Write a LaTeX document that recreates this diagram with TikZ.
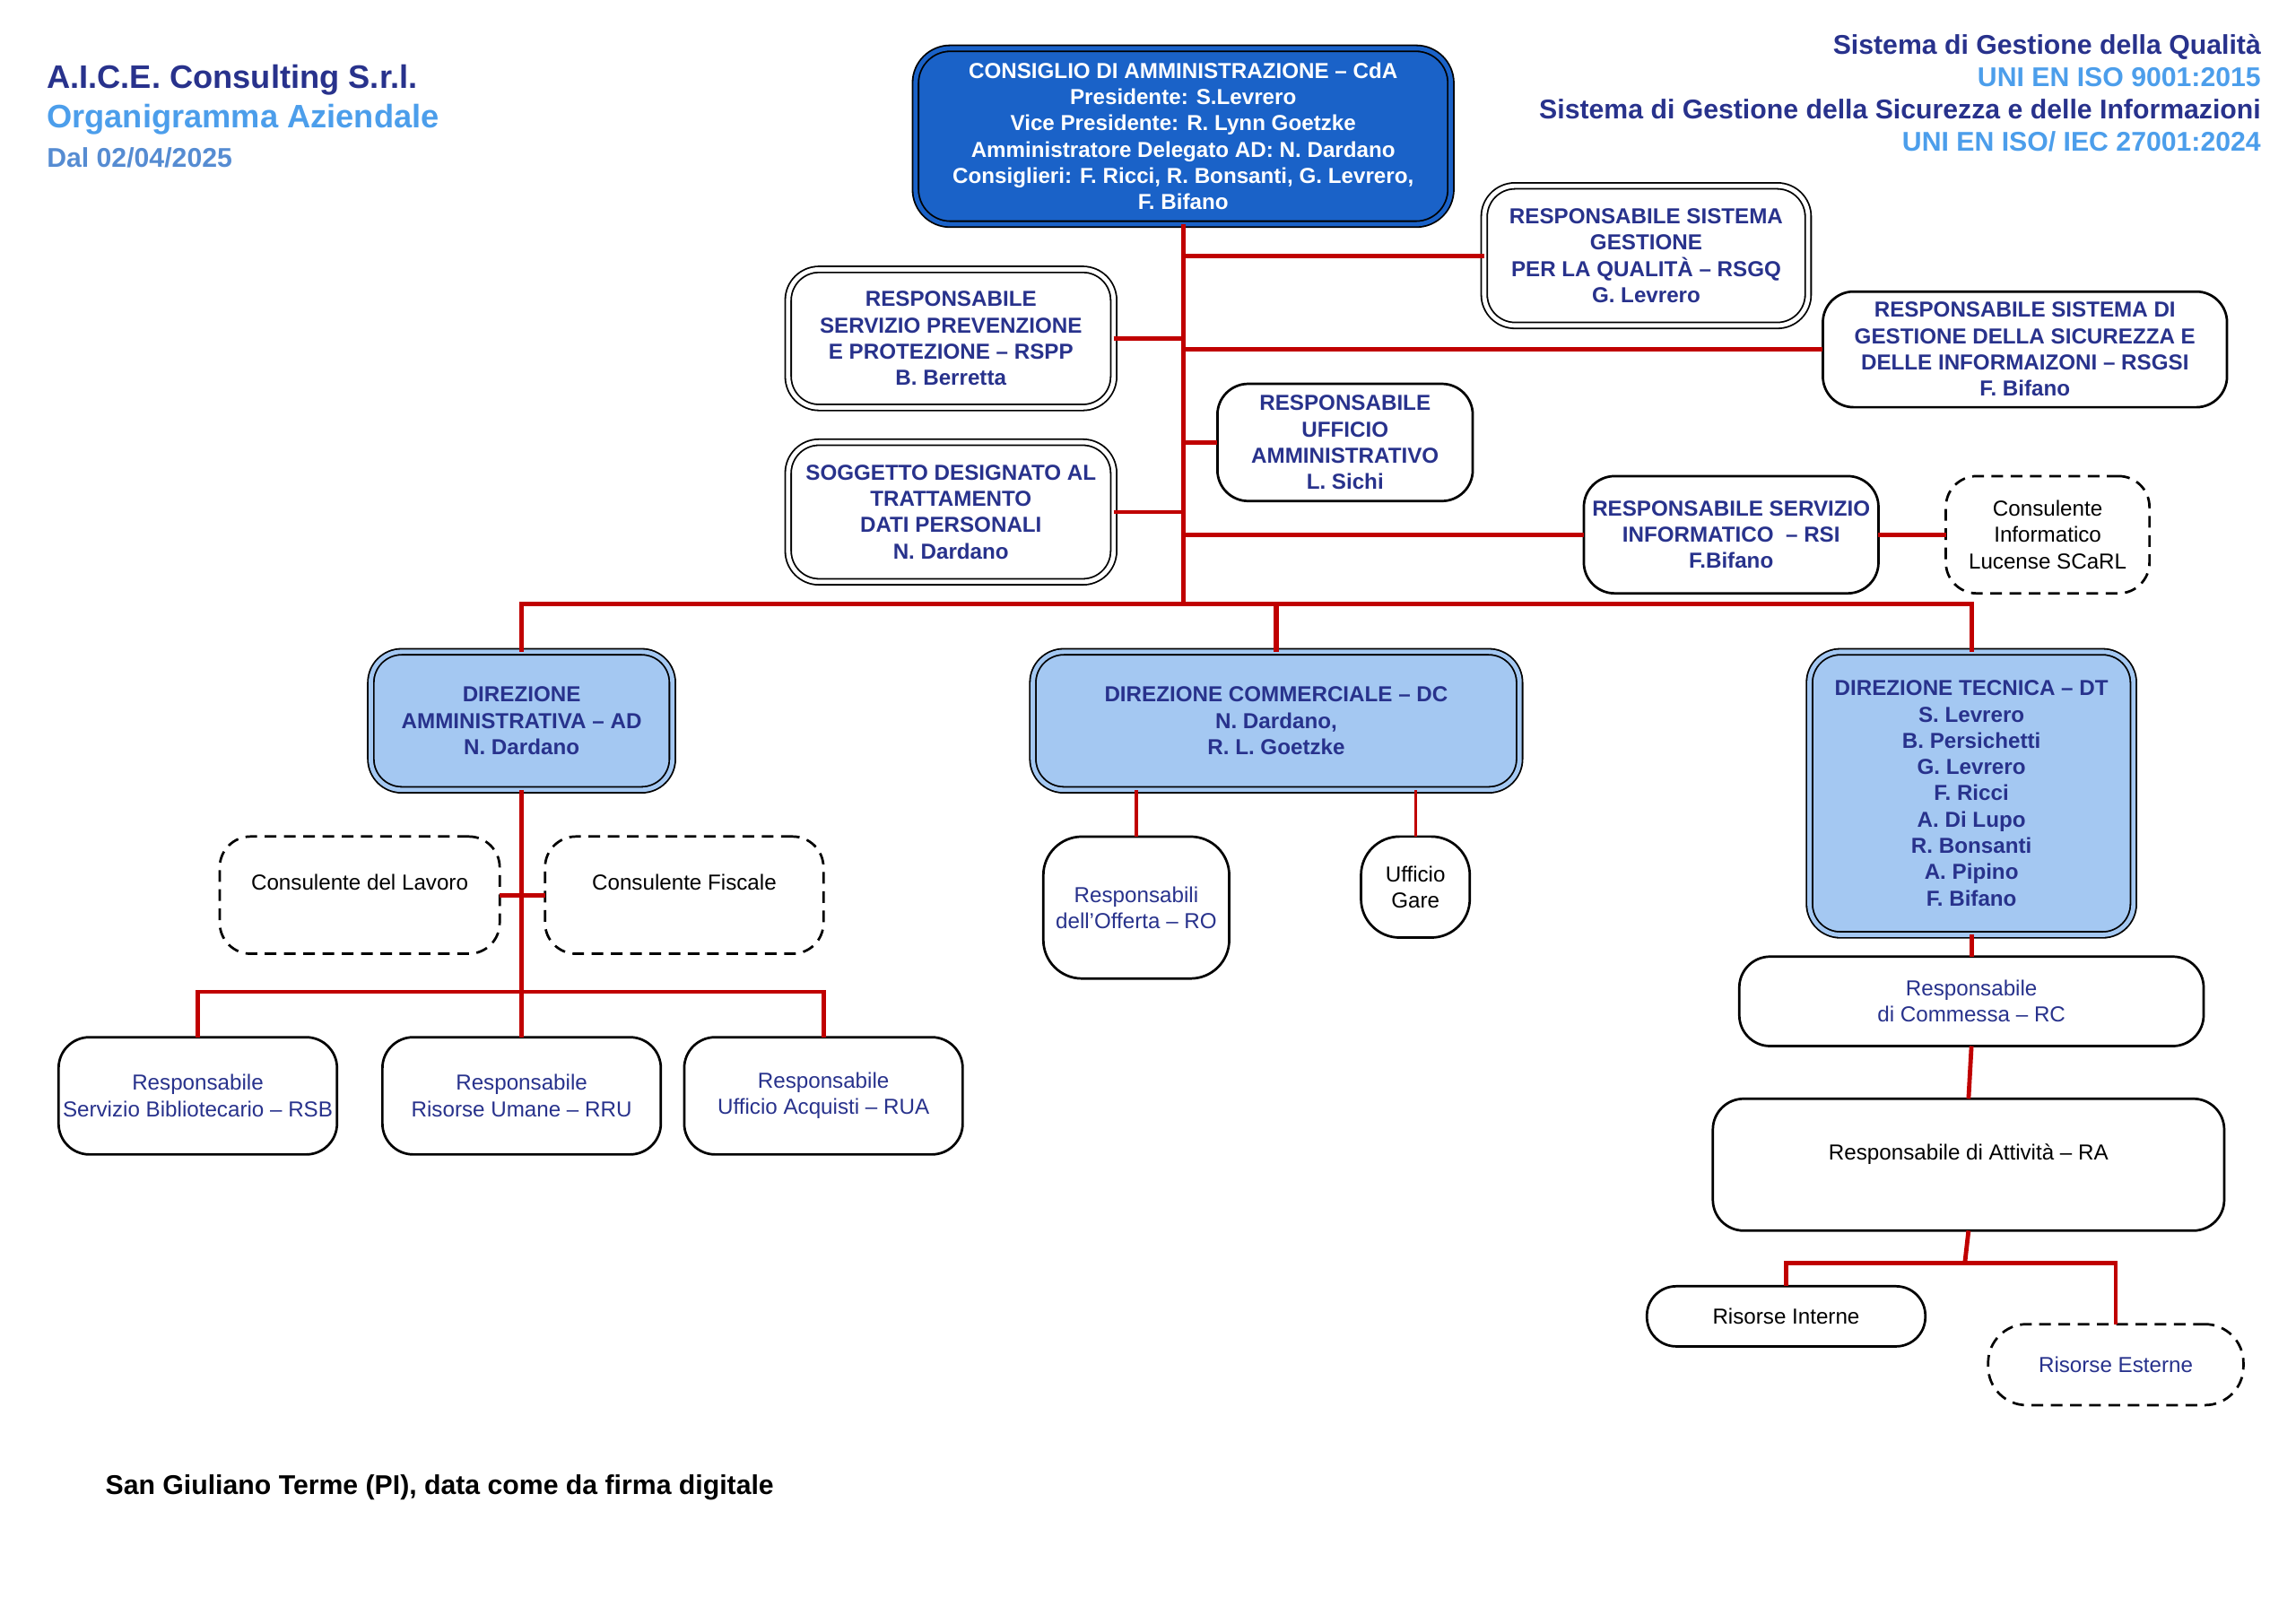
\documentclass[tikz,border=0pt]{standalone}
\usepackage{fontspec}
\setmainfont{Liberation Sans}
\definecolor{navy}{RGB}{40,50,140}
\definecolor{skyblue}{RGB}{76,158,235}
\definecolor{dateblue}{RGB}{86,140,210}
\definecolor{cdablue}{RGB}{26,98,200}
\definecolor{dirblue}{RGB}{164,200,242}
\definecolor{linkred}{RGB}{192,0,0}
\begin{document}
\begin{tikzpicture}[x=0.019cm,y=-0.019cm,inner sep=0pt,outer sep=0pt,
boxfont/.style={font=\fontsize{8}{9.7}\selectfont},
boldfont/.style={font=\bfseries\fontsize{8}{9.7}\selectfont},
cdabox/.style={draw,rectangle,rounded corners=0.45cm,fill=cdablue,double=cdablue,double distance=1.6pt,line width=0.6pt,text=white,boldfont,align=center},
dirbox/.style={draw,rectangle,rounded corners=0.4cm,fill=dirblue,double=dirblue,double distance=1.6pt,line width=0.6pt,text=navy,boldfont,align=center},
staffbox/.style={draw,rectangle,rounded corners=0.4cm,fill=white,double=white,double distance=1.6pt,line width=0.6pt,text=navy,boldfont,align=center},
unitbox/.style={draw,rectangle,rounded corners=0.4cm,fill=white,line width=0.9pt,text=navy,boxfont,align=center},
extbox/.style={unitbox,dash pattern=on 4.3pt off 2.8pt,text=black},
conn/.style={draw=linkred,line width=1.6pt},
thinconn/.style={draw=linkred,line width=1.1pt}]
\useasboundingbox (0,0) rectangle (1567,1108);
% header
\node[anchor=base west,text=navy,font=\bfseries\fontsize{12}{14}\selectfont] (company) at (32,60) {A.I.C.E. Consulting S.r.l.};
\node[anchor=base west,text=skyblue,font=\bfseries\fontsize{12}{14}\selectfont] (doctitle) at (32,87) {Organigramma Aziendale};
\node[anchor=base west,text=dateblue,font=\bfseries\fontsize{10}{12}\selectfont] (docdate) at (32,114) {Dal 02/04/2025};
\node[anchor=east,align=right,font=\bfseries\fontsize{10}{12}\selectfont] (norms) at (1543,63.5)
  {\textcolor{navy}{Sistema di Gestione della Qualità}\\
   \textcolor{skyblue}{UNI EN ISO 9001:2015}\\
   \textcolor{navy}{Sistema di Gestione della Sicurezza e delle Informazioni}\\
   \textcolor{skyblue}{UNI EN ISO/ IEC 27001:2024}};
\node[anchor=base west,font=\bfseries\fontsize{10}{12}\selectfont] (place) at (72,1020) {San Giuliano Terme (PI), data come da firma digitale};
% board and staff
\draw (807.5,93) node[cdabox,minimum width=6.94cm,minimum height=2.28cm] (cda)
  {CONSIGLIO DI AMMINISTRAZIONE – CdA\\Presidente: S.Levrero\\Vice Presidente: R. Lynn Goetzke\\Amministratore Delegato AD: N. Dardano\\Consiglieri: F. Ricci, R. Bonsanti, G. Levrero,\\F. Bifano};
\draw (1123.5,174.5) node[staffbox,minimum width=4.2cm,minimum height=1.81cm] (rsgq)
  {RESPONSABILE SISTEMA\\GESTIONE\\PER LA QUALITÀ – RSGQ\\G. Levrero};
\draw (649,231) node[staffbox,minimum width=4.22cm,minimum height=1.79cm] (rspp)
  {RESPONSABILE\\SERVIZIO PREVENZIONE\\E PROTEZIONE – RSPP\\B. Berretta};
\draw (1382,238.5) node[unitbox,boldfont,minimum width=5.24cm,minimum height=1.5cm] (rsgsi)
  {RESPONSABILE SISTEMA DI\\GESTIONE DELLA SICUREZZA E\\DELLE INFORMAIZONI – RSGSI\\F. Bifano};
\draw (918,302) node[unitbox,boldfont,minimum width=3.31cm,minimum height=1.52cm] (ruamm)
  {RESPONSABILE\\UFFICIO\\AMMINISTRATIVO\\L. Sichi};
\draw (649,349.5) node[staffbox,minimum width=4.22cm,minimum height=1.81cm] (privacy)
  {SOGGETTO DESIGNATO AL\\TRATTAMENTO\\DATI PERSONALI\\N. Dardano};
\draw (1181.5,365) node[unitbox,boldfont,minimum width=3.82cm,minimum height=1.52cm] (rsi)
  {RESPONSABILE SERVIZIO\\INFORMATICO \ – RSI\\F.Bifano};
\draw (1397.5,365) node[extbox,minimum width=2.64cm,minimum height=1.52cm] (consinf)
  {Consulente\\Informatico\\Lucense SCaRL};
% directions
\draw (356,492) node[dirbox,minimum width=3.91cm,minimum height=1.79cm] (ad)
  {DIREZIONE\\AMMINISTRATIVA – AD\\N. Dardano};
\draw (871,492) node[dirbox,minimum width=6.31cm,minimum height=1.79cm] (dc)
  {DIREZIONE COMMERCIALE – DC\\N. Dardano,\\R. L. Goetzke};
\draw (1345.5,541.5) node[dirbox,minimum width=4.2cm,minimum height=3.67cm] (dt)
  {DIREZIONE TECNICA – DT\\S. Levrero\\B. Persichetti\\G. Levrero\\F. Ricci\\A. Di Lupo\\R. Bonsanti\\A. Pipino\\F. Bifano};
% administration
\draw (245.5,611) node[extbox,minimum width=3.63cm,minimum height=1.52cm] (cdl) {Consulente del Lavoro\\~};
\draw (467,611) node[extbox,minimum width=3.61cm,minimum height=1.52cm] (cfisc) {Consulente Fiscale\\~};
\draw (135,748) node[unitbox,minimum width=3.61cm,minimum height=1.52cm] (rsb) {Responsabile\\Servizio Bibliotecario – RSB};
\draw (356,748) node[unitbox,minimum width=3.61cm,minimum height=1.52cm] (rru) {Responsabile\\Risorse Umane – RRU};
\draw (562,748) node[unitbox,minimum width=3.61cm,minimum height=1.52cm] (ruacq) {Responsabile\\Ufficio Acquisti – RUA};
% commercial
\draw (775.5,619.5) node[unitbox,rounded corners=0.5cm,minimum width=2.41cm,minimum height=1.84cm] (ro) {Responsabili\\dell’Offerta – RO};
\draw (966,605.5) node[unitbox,rounded corners=0.5cm,text=black,minimum width=1.41cm,minimum height=1.31cm] (gare) {Ufficio\\Gare};
% technical
\draw (1345.5,683.5) node[unitbox,minimum width=6.02cm,minimum height=1.16cm] (rc) {Responsabile\\di Commessa – RC};
\draw (1343.5,795) node[unitbox,text=black,minimum width=6.63cm,minimum height=1.71cm] (ra) {Responsabile di Attività – RA\\~};
\draw (1219,898.5) node[unitbox,rounded corners=0.38cm,text=black,minimum width=3.61cm,minimum height=0.78cm] (rint) {Risorse Interne};
\draw (1444,931.5) node[extbox,rounded corners=0.5cm,text=navy,minimum width=3.31cm,minimum height=1.05cm] (rest) {Risorse Esterne};
% junctions
\coordinate (hub) at (807.5,412);
\coordinate (adhub) at (356,677);
\coordinate (rahub) at (1341,862);
% links
\draw[conn] (cda.south) -- (hub);
\draw[conn] (rsgq.west) -- (rsgq.west -| cda.south);
\draw[conn] (rspp.east) -- (rspp.east -| cda.south);
\draw[conn] (rsgsi.west) -- (rsgsi.west -| cda.south);
\draw[conn] (ruamm.west) -- (ruamm.west -| cda.south);
\draw[conn] (privacy.east) -- (privacy.east -| cda.south);
\draw[conn] (rsi.west) -- (rsi.west -| cda.south);
\draw[conn] (rsi.east) -- (consinf.west);
\draw[conn] (ad.north) |- (hub) -| (dt.north);
\draw[conn,line width=2.2pt] (dc.north) -- (dc.north |- hub);
\draw[conn] (ad.south) -- (rru.north);
\draw[conn] (cdl.east) -- (cfisc.west);
\draw[conn] (rsb.north) |- (adhub) -| (ruacq.north);
\draw[thinconn] (ro.north) -- (ro.north |- dc.south);
\draw[thinconn] (gare.north) -- (gare.north |- dc.south);
\draw[conn] (dt.south) -- (rc.north);
\draw[conn] (rc.south) -- (ra.north);
\draw[conn] (ra.south) -- (rahub);
\draw[conn] (rint.north) |- (rahub) -| (rest.north);
\end{tikzpicture}
\end{document}
